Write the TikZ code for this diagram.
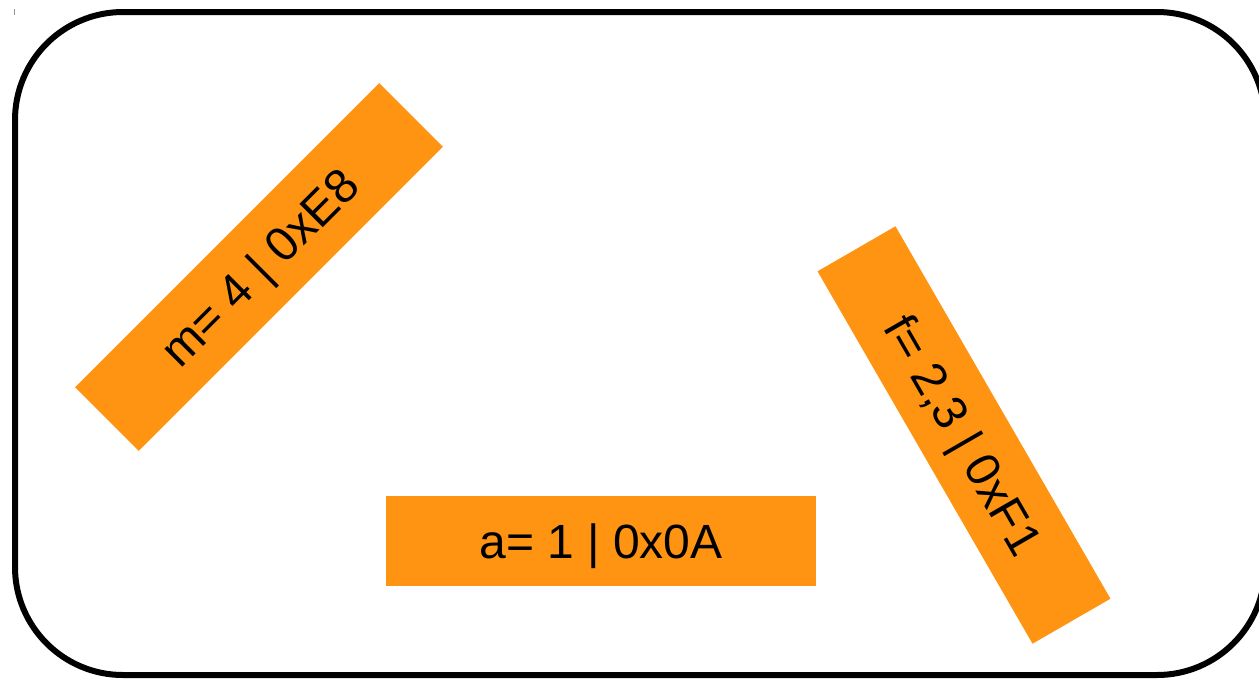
\documentclass[tikz,border=0pt]{standalone}
\usepackage{fontspec}
\setmainfont{Liberation Sans}
\definecolor{tagorange}{RGB}{254,148,18}
\begin{document}
\begin{tikzpicture}[x=1pt,y=-1pt,
  tag/.style={fill=tagorange, minimum width=430pt, minimum height=90pt,
    inner sep=0pt, font=\fontsize{48}{50}\selectfont,
    text height=34.5pt, text depth=0pt}]
  \useasboundingbox (0,0) rectangle (1259,681);
  \clip (0,0) rectangle (1259,681);
  % small mark in the top left corner
  \draw[gray!80, line width=1pt] (14.5,9) coordinate (mk1) -- (14.5,15) coordinate (mk2);
  % outer frame
  \draw[line width=6pt, rounded corners=108pt] (15,12) rectangle (1265,675);
  % tags
  \node[tag, rotate=45] (m) at (259,267) {m= 4 | 0xE8};
  \node[tag, rotate=-60] (f) at (964,435) {f= 2,3 | 0xF1};
  \node[tag] (a) at (601,541) {a= 1 | 0x0A};
\end{tikzpicture}
\end{document}
